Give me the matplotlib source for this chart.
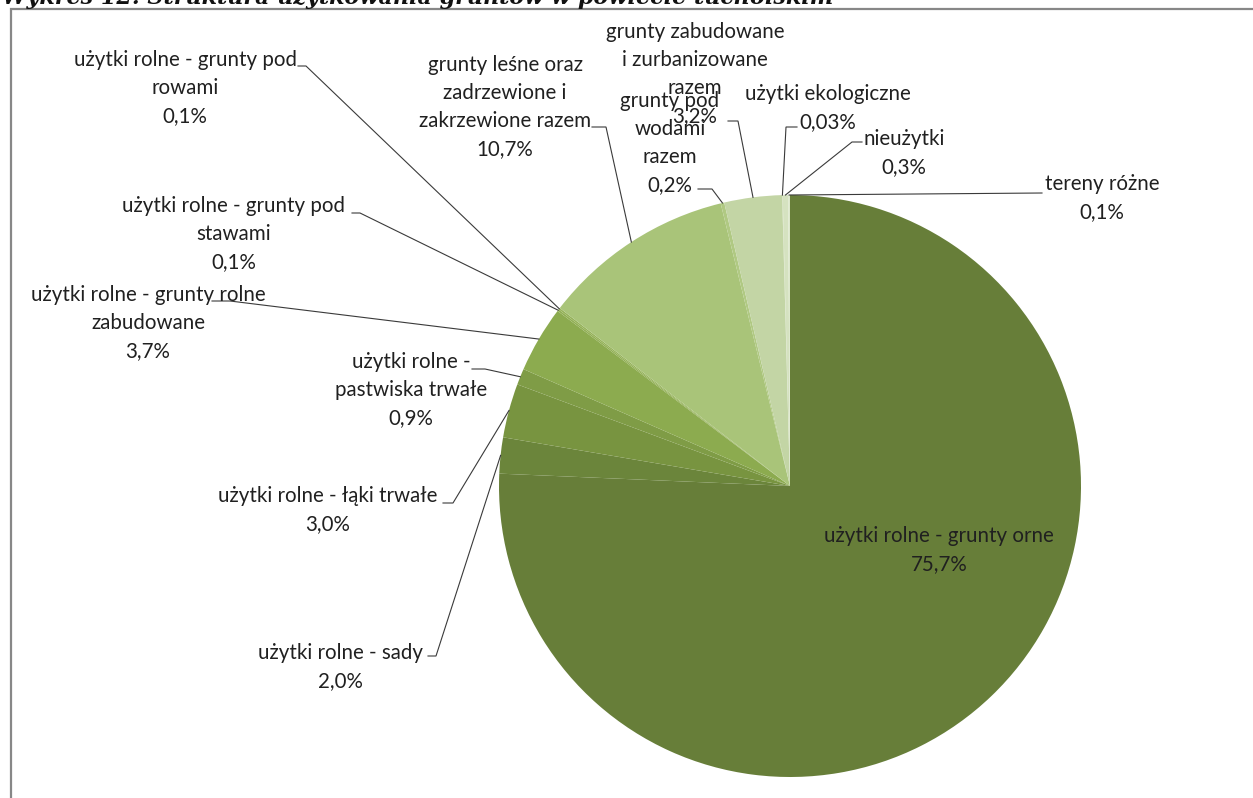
import numpy as np
import matplotlib
matplotlib.use("Agg")
import matplotlib.pyplot as plt
from matplotlib.patches import Rectangle

W, H = 1253, 798

# slices, clockwise from 12 o'clock
names = [
    "użytki rolne - grunty orne",
    "użytki rolne - sady",
    "użytki rolne - łąki trwałe",
    "użytki rolne -\npastwiska trwałe",
    "użytki rolne - grunty rolne\nzabudowane",
    "użytki rolne - grunty pod\nstawami",
    "użytki rolne - grunty pod\nrowami",
    "grunty leśne oraz\nzadrzewione i\nzakrzewione razem",
    "grunty pod\nwodami\nrazem",
    "grunty zabudowane\ni zurbanizowane\nrazem",
    "użytki ekologiczne",
    "nieużytki",
    "tereny różne",
]
shares = [75.7, 2.0, 3.0, 0.9, 3.7, 0.1, 0.1, 10.7, 0.2, 3.2, 0.03, 0.3, 0.1]
colors = ["#677e39", "#6b853b", "#789440", "#7f9c46", "#8cab4f", "#91af54",
          "#96b35a", "#a9c479", "#b0c983", "#c3d5a5", "#cddcb4", "#d5e2c0",
          "#dde8cc"]

# label layout in pixels (y down): text centre, stub start, stub end (None = no leader)
text_xy = [(939, 550), (340, 667), (328, 510), (411, 390), (148, 323),
           (234, 234), (185, 88), (505, 107), (670, 143), (695, 74),
           (828, 108), (904, 153), (1102, 198)]
stubs = [None, ((428, 656), (436, 656)), ((443, 503), (453, 503)),
         ((472, 369), (485, 369)), ((212, 301), (230, 301)),
         ((352, 213), (360, 213)), ((298, 66), (306, 66)),
         ((592, 127), (606, 127)), ((698, 189), (712, 189)),
         ((728, 121), (738, 121)), ((797, 127), (786, 127)),
         ((862, 142), (852, 142)), ((1042, 193), (1042, 193))]

cx, cy, r = 790, 486, 291

plt.rcParams['font.family'] = ['Lato', 'DejaVu Sans']

fig = plt.figure(figsize=(W / 100, H / 100), dpi=100)
ax = fig.add_axes([0, 0, 1, 1])

def Y(py):
    return H - py

wedges, _ = ax.pie(shares, colors=colors, startangle=90, counterclock=False,
                   center=(cx, Y(cy)), radius=r,
                   wedgeprops=dict(linewidth=0))
ax.set_xlim(0, W)
ax.set_ylim(0, H)
ax.axis('off')

for i, w in enumerate(wedges):
    v = shares[i]
    pct = (f"{v:.2f}" if v < 0.05 else f"{v:.1f}").replace('.', ',') + '%'
    tx, ty = text_xy[i]
    ax.text(tx, Y(ty), names[i] + "\n" + pct, ha='center', va='center',
            multialignment='center', fontsize=14.8, linespacing=1.5,
            color='#202020', zorder=5)
    if stubs[i] is not None:
        m = np.deg2rad((w.theta1 + w.theta2) / 2)
        axp = cx + r * np.cos(m)
        ayp = Y(cy) + r * np.sin(m)
        (x0, y0), (x1, y1) = stubs[i]
        ax.plot([x0, x1, axp], [Y(y0), Y(y1), ayp], color='#3a3a3a',
                lw=0.8, zorder=4, solid_joinstyle='miter')

# chart frame, running off the right and bottom edge
ax.add_patch(Rectangle((11, -20), W + 20, Y(9) + 20, fill=False,
                       edgecolor='#878787', lw=1.6, zorder=6, clip_on=False))

# caption above the chart, cut by the page edge
fig.text(2 / W, Y(4) / H,
         "Wykres 12. Struktura użytkowania gruntów w powiecie tucholskim",
         fontfamily='DejaVu Serif', fontweight='bold', fontstyle='italic',
         fontsize=16, va='baseline', ha='left', color='#111111')

fig.savefig("out.png", dpi=100)
